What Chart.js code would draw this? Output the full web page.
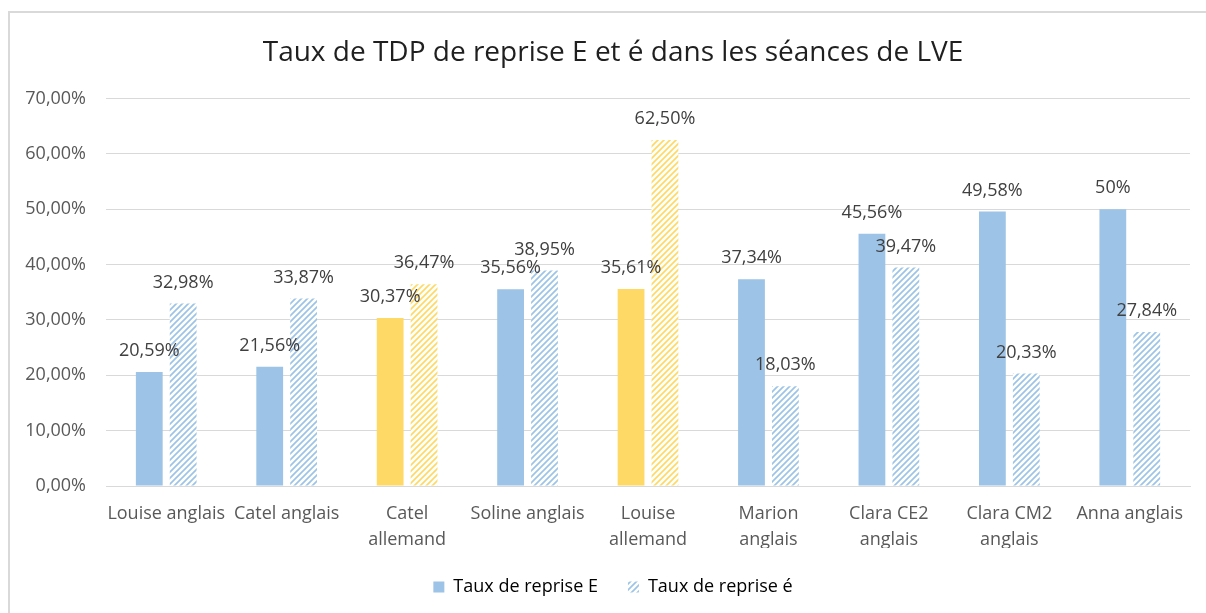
<!DOCTYPE html>
<html lang="fr">
<head>
<meta charset="utf-8">
<title>Taux de TDP de reprise E et é</title>
<script src="https://cdn.jsdelivr.net/npm/chart.js@4.4.1/dist/chart.umd.min.js"></script>
<style>
  html, body { margin: 0; padding: 0; background: #fff; overflow: hidden; }
  #cadre { position: absolute; left: 8px; top: 11px; width: 1300px; height: 700px; border: 2px solid #d9d9d9; }
  #graphique { position: absolute; left: 0; top: 0; }
</style>
</head>
<body>
<div id="cadre"></div>
<canvas id="graphique" width="1206" height="613"></canvas>
<script>
// Données
const categories = [
  'Louise anglais', 'Catel anglais', ['Catel', 'allemand'], 'Soline anglais',
  ['Louise', 'allemand'], ['Marion', 'anglais'], ['Clara CE2', 'anglais'],
  ['Clara CM2', 'anglais'], 'Anna anglais'
];
const repriseE = [20.59, 21.56, 30.37, 35.56, 35.61, 37.34, 45.56, 49.58, 50];
const repriseEAigu = [32.98, 33.87, 36.47, 38.95, 62.50, 18.03, 39.47, 20.33, 27.84];
const nomsSeries = ['Taux de reprise E', 'Taux de reprise é'];
const graduationsY = [0, 10, 20, 30, 40, 50, 60, 70];

const BLEU = '#9dc3e6';
const JAUNE = '#ffd966';
const POLICE = '"Open Sans", "Liberation Sans", sans-serif';

const ctx = document.getElementById('graphique').getContext('2d');

// motif hachuré (diagonales montantes) pour la série "é"
function hachures(couleur) {
  const c = document.createElement('canvas');
  c.width = 6; c.height = 6;
  const g = c.getContext('2d');
  g.fillStyle = '#ffffff';
  g.fillRect(0, 0, 6, 6);
  g.strokeStyle = couleur;
  g.lineWidth = 1.7;
  g.beginPath();
  g.moveTo(0, 6); g.lineTo(6, 0);
  g.moveTo(-3, 3); g.lineTo(3, -3);
  g.moveTo(3, 9); g.lineTo(9, 3);
  g.stroke();
  return ctx.createPattern(c, 'repeat');
}
const motifBleu = hachures(BLEU);
const motifJaune = hachures(JAUNE);

const estAllemand = categories.map(c => [].concat(c).join(' ').includes('allemand'));

function pourcent(v) {
  return Number.isInteger(v) ? v + '%' : v.toFixed(2).replace('.', ',') + '%';
}

// étiquettes de valeurs au-dessus des barres
const etiquettesPlugin = {
  id: 'etiquettes',
  afterDatasetsDraw(chart) {
    const c = chart.ctx;
    c.save();
    c.font = '18px ' + POLICE;
    c.fillStyle = '#404040';
    c.textAlign = 'center';
    c.textBaseline = 'middle';
    chart.data.datasets.forEach((ds, i) => {
      chart.getDatasetMeta(i).data.forEach((bar, j) => {
        c.fillText(pourcent(ds.data[j]), bar.x, bar.y - 21);
      });
    });
    c.restore();
  }
};

// Excel centre titre et légende sur le cadre, pas sur le canvas : on décale leur bord gauche
const centragePlugin = {
  id: 'centrage',
  afterLayout(chart) {
    if (chart.titleBlock) chart.titleBlock.left = 36;
    if (chart.legend) chart.legend.left = 36;
  }
};

new Chart(ctx, {
  type: 'bar',
  data: {
    labels: categories,
    datasets: [
      {
        label: nomsSeries[0],
        data: repriseE,
        backgroundColor: estAllemand.map(a => a ? JAUNE : BLEU),
        borderWidth: 0
      },
      {
        label: nomsSeries[1],
        data: repriseEAigu,
        backgroundColor: estAllemand.map(a => a ? motifJaune : motifBleu),
        borderWidth: 0
      }
    ]
  },
  options: {
    responsive: false,
    animation: false,
    categoryPercentage: 0.563,
    barPercentage: 0.79,
    layout: { padding: { left: 0, right: 16, top: 0, bottom: 7 } },
    plugins: {
      title: {
        display: true,
        text: 'Taux de TDP de reprise E et é dans les séances de LVE',
        color: '#1f1f1f',
        font: { family: POLICE, size: 28, weight: 'normal', lineHeight: 1.2 },
        padding: { top: 36, bottom: 29 }
      },
      legend: {
        position: 'bottom',
        labels: {
          boxWidth: 11,
          boxHeight: 11,
          padding: 30,
          color: '#595959',
          font: { family: POLICE, size: 18 },
          generateLabels: chart => chart.data.datasets.map((ds, i) => ({
            text: ds.label,
            fillStyle: i === 0 ? BLEU : motifBleu,
            strokeStyle: 'rgba(0,0,0,0)',
            lineWidth: 0,
            hidden: false,
            datasetIndex: i
          }))
        }
      },
      tooltip: { enabled: false }
    },
    scales: {
      x: {
        grid: { display: false },
        border: { color: '#d9d9d9', width: 1 },
        afterFit: s => { s.height = 62; },
        ticks: {
          color: '#595959',
          maxRotation: 0,
          autoSkip: false,
          padding: 7,
          font: { family: POLICE, size: 18, lineHeight: 1.45 }
        }
      },
      y: {
        min: 0,
        max: 70,
        afterBuildTicks: s => { s.ticks = graduationsY.map(v => ({ value: v })); },
        afterFit: s => { s.width = 106; },
        grid: { color: '#d9d9d9', drawTicks: false },
        border: { display: false },
        ticks: {
          color: '#595959',
          padding: 20,
          font: { family: POLICE, size: 18 },
          callback: v => v.toFixed(2).replace('.', ',') + '%'
        }
      }
    }
  },
  plugins: [etiquettesPlugin, centragePlugin]
});
</script>
</body>
</html>
